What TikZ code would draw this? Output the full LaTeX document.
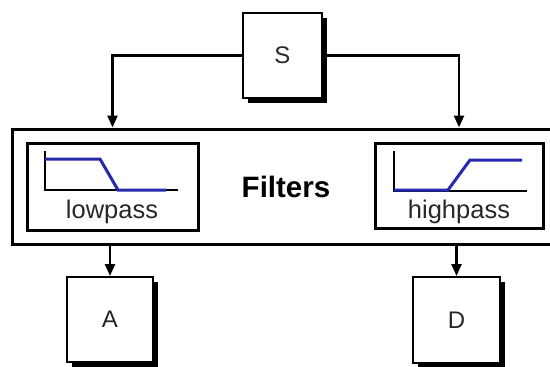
\documentclass[tikz,border=0pt]{standalone}
\usepackage{fontspec}
\setmainfont{Liberation Sans}
\usetikzlibrary{arrows.meta,shadows}
\definecolor{curveblue}{RGB}{40,40,175}
\definecolor{ink}{RGB}{40,40,40}
\tikzset{
  unitbox/.style={draw, fill=white, line width=2pt, inner sep=0pt,
    font=\fontsize{24}{28}\selectfont, text=ink,
    drop shadow={shadow xshift=5pt, shadow yshift=-5pt, fill=black, opacity=1}},
  filterbox/.style={draw, fill=white, line width=3pt, inner sep=0pt},
  caption/.style={font=\fontsize{25.5}{30}\selectfont, inner sep=0pt, text=ink},
  link/.style={line width=2.4pt, -{Triangle[width=10pt,length=12pt]}},
  axis/.style={line width=2.4pt},
  curve/.style={line width=3pt, curveblue},
}
\begin{document}
\begin{tikzpicture}[x=1pt,y=-1pt]
  \useasboundingbox (0,0) rectangle (550,367);
  \clip (0,0) rectangle (550,367);
  \fill[white] (0,0) rectangle (550,367);

  % source and outputs
  \node[unitbox, minimum width=79pt, minimum height=85pt] (S) at (282.5,55.5) {S};
  \node[unitbox, minimum width=86pt, minimum height=85pt] (A) at (110,319.5) {A};
  \node[unitbox, minimum width=87pt, minimum height=86pt] (D) at (456.5,320) {D};

  % filter bank
  \node[filterbox, minimum width=548pt, minimum height=115pt] (filters) at (286,186.5) {};
  \node[font=\fontsize{29.5}{34}\selectfont\bfseries, inner sep=0pt] (title) at (286,187) {Filters};

  \node[filterbox, minimum width=171pt, minimum height=87pt] (lowpass) at (112.5,186.5) {};
  \node[filterbox, minimum width=168pt, minimum height=85pt] (highpass) at (459,185.5) {};
  \node[caption] (lowtext) at (112,212) {lowpass};
  \node[caption] (hightext) at (459,212) {highpass};

  % lowpass response
  \draw[axis] (45,151) -- (45,190) -- (178,190);
  \draw[curve] (45,159) -- (100,159) -- (118,190) -- (166,190);

  % highpass response
  \draw[axis] (394,151) -- (394,191) -- (527,191);
  \draw[curve] (394,190) -- (448,190) -- (470,160) -- (522,160);

  % connectors
  \draw[link] (S.west) -| (lowpass.north |- filters.north);
  \draw[link] (S.east) -| (highpass.north |- filters.north);
  \draw[link] (A.north |- filters.south) -- (A.north);
  \draw[link] (D.north |- filters.south) -- (D.north);
\end{tikzpicture}
\end{document}
